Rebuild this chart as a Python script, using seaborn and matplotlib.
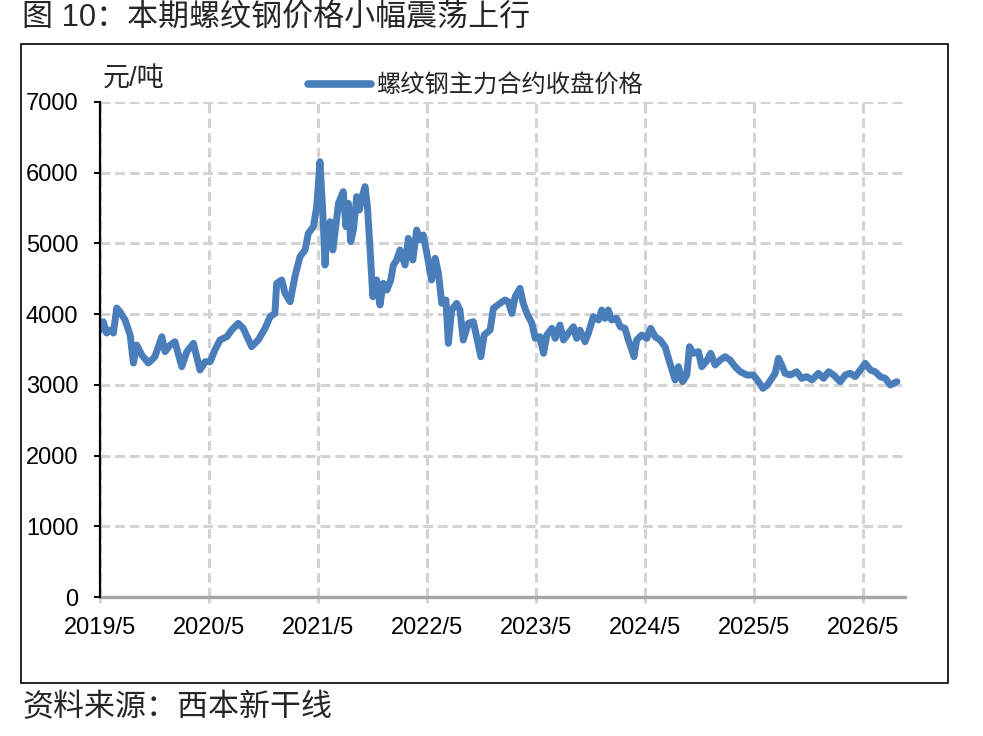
import matplotlib
matplotlib.use("Agg")
import matplotlib.pyplot as plt
import matplotlib.patches as mpatches
import seaborn as sns
import pandas as pd

# ---------------- data ----------------
dates = [
    "2019-05-01", "2019-05-12", "2019-05-23", "2019-06-04", "2019-06-15", "2019-06-26",
    "2019-07-07", "2019-07-24", "2019-08-10", "2019-08-21", "2019-09-01", "2019-09-18",
    "2019-10-10", "2019-11-01", "2019-11-24", "2019-12-05", "2019-12-22", "2020-01-07",
    "2020-01-30", "2020-02-16", "2020-03-09", "2020-03-20", "2020-03-31", "2020-04-17",
    "2020-05-04", "2020-05-20", "2020-06-06", "2020-06-29", "2020-07-15", "2020-08-06",
    "2020-08-23", "2020-09-20", "2020-10-12", "2020-11-04", "2020-11-21", "2020-12-07",
    "2020-12-13", "2020-12-30", "2021-01-10", "2021-01-27", "2021-02-12", "2021-03-01",
    "2021-03-18", "2021-03-29", "2021-04-15", "2021-04-26", "2021-05-07", "2021-05-16",
    "2021-05-24", "2021-05-29", "2021-06-10", "2021-06-19", "2021-06-26", "2021-07-08",
    "2021-07-24", "2021-08-02", "2021-08-10", "2021-08-18", "2021-08-27", "2021-09-07",
    "2021-09-16", "2021-09-24", "2021-10-05", "2021-10-13", "2021-10-22", "2021-10-31",
    "2021-11-13", "2021-11-24", "2021-12-05", "2021-12-17", "2021-12-30", "2022-01-08",
    "2022-01-19", "2022-01-30", "2022-02-16", "2022-02-27", "2022-03-14", "2022-03-27",
    "2022-04-07", "2022-04-18", "2022-04-30", "2022-05-16", "2022-05-28", "2022-06-08",
    "2022-06-19", "2022-07-03", "2022-07-11", "2022-07-22", "2022-08-08", "2022-08-19",
    "2022-08-30", "2022-09-16", "2022-10-03", "2022-10-16", "2022-10-28", "2022-11-08",
    "2022-11-28", "2022-12-09", "2022-12-31", "2023-01-17", "2023-01-28", "2023-02-09",
    "2023-02-20", "2023-03-08", "2023-03-19", "2023-03-31", "2023-04-17", "2023-04-28",
    "2023-05-14", "2023-05-26", "2023-06-06", "2023-06-23", "2023-07-04", "2023-07-20",
    "2023-08-01", "2023-08-17", "2023-09-03", "2023-09-14", "2023-09-25", "2023-10-12",
    "2023-10-23", "2023-11-09", "2023-11-26", "2023-12-07", "2023-12-18", "2023-12-29",
    "2024-01-09", "2024-01-26", "2024-02-07", "2024-02-23", "2024-03-05", "2024-03-17",
    "2024-03-24", "2024-04-02", "2024-04-19", "2024-05-06", "2024-05-19", "2024-06-03",
    "2024-06-19", "2024-07-06", "2024-07-21", "2024-08-09", "2024-08-20", "2024-09-03",
    "2024-09-17", "2024-09-26", "2024-10-09", "2024-10-26", "2024-11-06", "2024-11-21",
    "2024-12-06", "2024-12-21", "2025-01-07", "2025-01-23", "2025-02-09", "2025-02-26",
    "2025-03-15", "2025-04-06", "2025-04-28", "2025-05-15", "2025-05-30", "2025-06-14",
    "2025-06-29", "2025-07-10", "2025-07-21", "2025-08-01", "2025-08-12", "2025-08-29",
    "2025-09-20", "2025-10-07", "2025-10-24", "2025-11-10", "2025-12-02", "2025-12-19",
    "2026-01-05", "2026-01-22", "2026-02-13", "2026-03-02", "2026-03-18", "2026-04-04",
    "2026-04-21", "2026-05-08", "2026-05-25", "2026-06-10", "2026-06-27", "2026-07-14",
    "2026-07-31", "2026-08-11", "2026-08-22",
]
prices = [
    3775, 3893, 3733, 3775, 3733, 4087,
    4034, 3917, 3705, 3309, 3563, 3422,
    3309, 3398, 3681, 3469, 3563, 3610,
    3257, 3469, 3587, 3398, 3210, 3327,
    3327, 3493, 3634, 3681, 3775, 3870,
    3799, 3540, 3634, 3799, 3964, 4011,
    4436, 4483, 4294, 4176, 4530, 4812,
    4907, 5143, 5237, 5520, 6156, 5473,
    4695, 5143, 5308, 4907, 5143, 5567,
    5732, 5237, 5567, 5025, 5190, 5662,
    5473, 5638, 5803, 5520, 4907, 4247,
    4483, 4129, 4436, 4341, 4483, 4695,
    4766, 4907, 4695, 5072, 4766, 5190,
    5049, 5119, 4860, 4483, 4790, 4577,
    4153, 4200, 3587, 4058, 4153, 4058,
    3634, 3870, 3893, 3634, 3398, 3705,
    3775, 4082, 4153, 4200, 4176, 4011,
    4247, 4365, 4153, 4011, 3870, 3658,
    3681, 3446, 3705, 3799, 3658, 3846,
    3634, 3728, 3822, 3658, 3775, 3610,
    3728, 3964, 3917, 4058, 3940, 4058,
    3917, 3940, 3822, 3799, 3634, 3493,
    3398, 3634, 3705, 3658, 3799, 3681,
    3634, 3540, 3327, 3069, 3257, 3045,
    3139, 3540, 3446, 3469, 3257, 3327,
    3446, 3281, 3352, 3398, 3352, 3257,
    3186, 3139, 3139, 3045, 2951, 2998,
    3092, 3163, 3375, 3281, 3163, 3139,
    3186, 3092, 3116, 3069, 3163, 3092,
    3186, 3139, 3045, 3139, 3163, 3116,
    3210, 3304, 3210, 3186, 3116, 3092,
    2998, 3022, 3045,
]
tick_dates = ["2019-05-01", "2020-05-01", "2021-05-01", "2022-05-01",
              "2023-05-01", "2024-05-01", "2025-05-01", "2026-05-01"]
tick_labels = ["2019/5", "2020/5", "2021/5", "2022/5",
               "2023/5", "2024/5", "2025/5", "2026/5"]
y_ticks = [0, 1000, 2000, 3000, 4000, 5000, 6000, 7000]
series_name = "螺纹钢主力合约收盘价格"
unit_label = "元/吨"
title_text = "图 10：本期螺纹钢价格小幅震荡上行"
source_text = "资料来源：西本新干线"
x_start, x_end = "2019-05-01", "2026-09-18"

# ---------------- style ----------------
sns.set_style("white")
plt.rcParams["font.family"] = ["Liberation Sans", "Noto Sans CJK SC", "DejaVu Sans"]

df = pd.DataFrame({"date": pd.to_datetime(dates), "price": prices})

fig = plt.figure(figsize=(9.83, 7.36), dpi=100)
ax = fig.add_axes([100 / 983, 1 - 597 / 736, 805 / 983, 495 / 736])

line_color = "#4A7EBB"
sns.lineplot(data=df, x="date", y="price", ax=ax, color=line_color, lw=5.0,
             solid_capstyle="round", solid_joinstyle="round", label=series_name,
             legend=False, zorder=3)

ax.set_xlim(pd.Timestamp(x_start), pd.Timestamp(x_end))
ax.set_ylim(0, 7000)
ax.set_xticks(pd.to_datetime(tick_dates))
ax.set_xticklabels(tick_labels)
ax.set_yticks(y_ticks)
ax.set_yticklabels([str(v) for v in y_ticks])
ax.set_xlabel("")
ax.set_ylabel("")

ax.grid(True, axis="both", color="#D3D3D3", lw=2.2, linestyle=(0, (3.2, 1.6)))

for s in ["top", "right"]:
    ax.spines[s].set_visible(False)
ax.spines["left"].set_color("black")
ax.spines["left"].set_linewidth(1.6)
ax.spines["bottom"].set_color("#A6A6A6")
ax.spines["bottom"].set_linewidth(2.4)
ax.spines["left"].set_zorder(4)

ax.tick_params(axis="y", direction="out", length=4.5, width=1.4, color="black",
               labelsize=17, pad=11, labelcolor="black", left=True)
ax.tick_params(axis="x", direction="out", length=4.5, width=2.0, color="#D3D3D3",
               labelsize=17, pad=10, labelcolor="black", bottom=True)

# legend
handle = plt.Line2D([], [], color=line_color, lw=5.5, solid_capstyle="round")
fig.legend([handle], [series_name], loc="center left",
           bbox_to_anchor=(308 / 983, 1 - 86 / 736), frameon=False,
           fontsize=17.5, handlelength=2.6, handletextpad=0.2, borderpad=0,
           borderaxespad=0)

# unit label
fig.text(103 / 983, 1 - 80 / 736, unit_label, fontsize=19.5, ha="left", va="center")

# title and source
fig.text(22 / 983, 1 - 18 / 736, title_text, fontsize=22.3, ha="left", va="center")
fig.text(22 / 983, 1 - 708 / 736, source_text, fontsize=22.3, ha="left", va="center")

# border box around chart
rect = mpatches.Rectangle((21 / 983, 1 - 683 / 736), 927 / 983, 639 / 736,
                          transform=fig.transFigure, fill=False,
                          edgecolor="black", lw=1.2)
fig.patches.append(rect)

fig.savefig("out.png", dpi=100)
